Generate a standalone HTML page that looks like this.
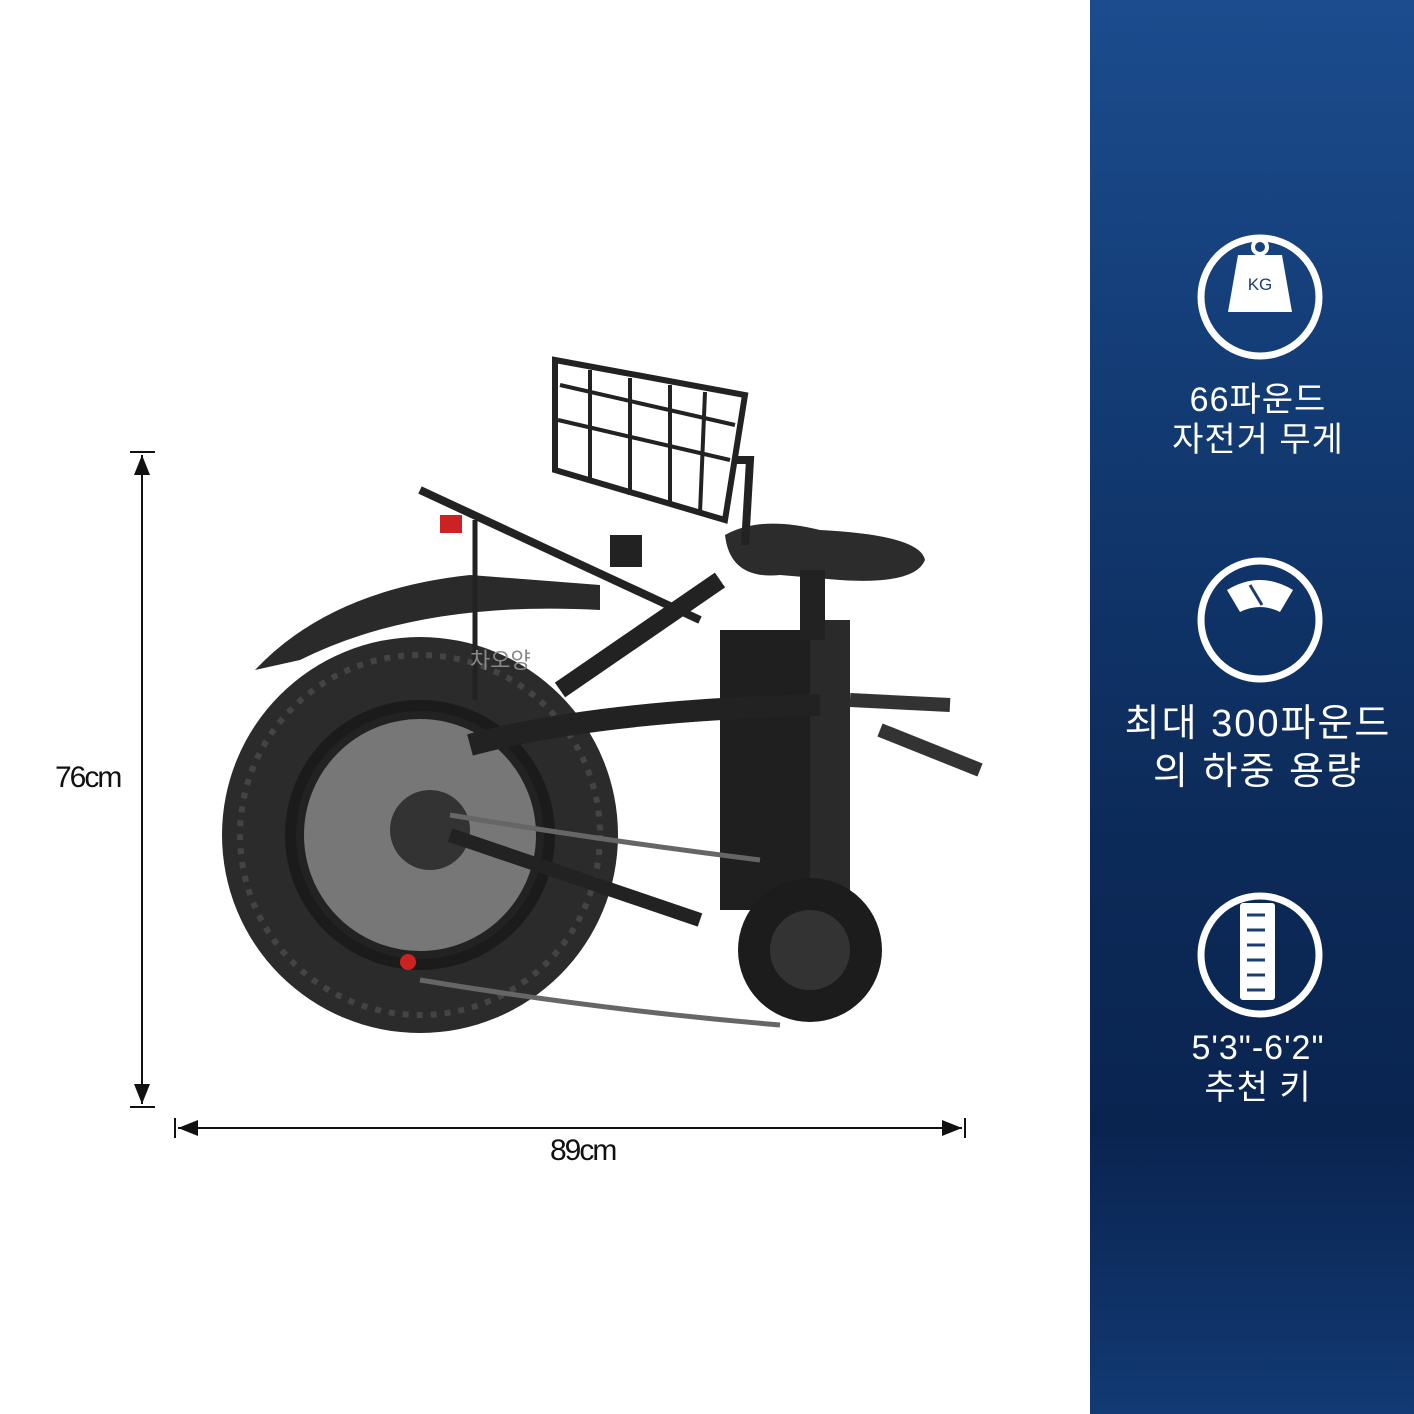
<!DOCTYPE html>
<html><head><meta charset="utf-8"><style>
html,body{margin:0;padding:0;}
body{width:1414px;height:1414px;position:relative;background:#fff;overflow:hidden;font-family:"Liberation Sans","Noto Sans CJK KR",sans-serif;}
.panel{position:absolute;left:1090px;top:0;width:324px;height:1414px;background:linear-gradient(180deg,#1c4c8e 0%,#123a72 30%,#0c2a58 60%,#0a2450 80%,#123a74 100%);}
.t{position:absolute;left:1090px;width:340px;text-align:center;color:#fff;font-size:34px;line-height:40px;letter-spacing:1px;}
.lbl{position:absolute;font-size:30px;color:#111;letter-spacing:-2px;}
</style></head><body>
<svg width="1090" height="1414" style="position:absolute;left:0;top:0">
<defs><marker id="a" viewBox="0 0 10 10" refX="10" refY="5" markerWidth="10" markerHeight="10" orient="auto-start-reverse"><path d="M0,1 L10,5 L0,9 Z" fill="#111"/></marker></defs>
<line x1="130" y1="452" x2="155" y2="452" stroke="#111" stroke-width="2"/>
<line x1="130" y1="1107" x2="155" y2="1107" stroke="#111" stroke-width="2"/>
<line x1="142" y1="455" x2="142" y2="1104" stroke="#111" stroke-width="2" marker-start="url(#a)" marker-end="url(#a)"/>
<line x1="175" y1="1118" x2="175" y2="1138" stroke="#111" stroke-width="2"/>
<line x1="965" y1="1118" x2="965" y2="1138" stroke="#111" stroke-width="2"/>
<line x1="178" y1="1128" x2="962" y2="1128" stroke="#111" stroke-width="2" marker-start="url(#a)" marker-end="url(#a)"/>
<path d="M255,670 Q330,590 470,575 L600,585 L600,610 Q420,600 300,660 Z" fill="#2a2a2a"/>
<circle cx="420" cy="835" r="198" fill="#2b2b2b"/>
<circle cx="420" cy="835" r="180" fill="none" stroke="#444" stroke-width="6" stroke-dasharray="6 8"/>
<circle cx="420" cy="835" r="135" fill="#1b1b1b"/>
<circle cx="420" cy="835" r="120" fill="#777"/>
<circle cx="420" cy="835" r="120" fill="none" stroke="#222" stroke-width="8"/>
<circle cx="430" cy="830" r="40" fill="#333"/>
<path d="M560,690 L720,580" stroke="#222" stroke-width="18"/>
<rect x="720" y="630" width="100" height="280" fill="#1f1f1f"/>
<rect x="810" y="620" width="40" height="280" fill="#2a2a2a"/>
<path d="M470,745 Q600,710 820,705" stroke="#222" stroke-width="22" fill="none"/>
<path d="M450,835 L700,920" stroke="#222" stroke-width="14"/>
<path d="M420,980 Q600,1010 780,1025" stroke="#666" stroke-width="5" fill="none"/>
<path d="M450,815 Q600,840 760,860" stroke="#666" stroke-width="5" fill="none"/>
<circle cx="810" cy="950" r="72" fill="#1c1c1c"/>
<circle cx="810" cy="950" r="40" fill="#333"/>
<path d="M420,490 L700,620" stroke="#222" stroke-width="8"/>
<line x1="475" y1="520" x2="475" y2="700" stroke="#222" stroke-width="5"/>
<path d="M725,535 Q760,515 820,530 Q920,535 925,560 Q915,585 840,580 L780,575 Q730,580 725,535 Z" fill="#2c2c2c"/>
<rect x="800" y="570" width="25" height="70" fill="#222"/>
<path d="M555,360 L745,395 L725,520 L555,470 Z" fill="none" stroke="#222" stroke-width="6"/>
<path d="M560,385 L735,425 M558,420 L730,460 M590,370 L590,480 M630,378 L630,495 M670,385 L670,505 M705,392 L700,513" stroke="#222" stroke-width="4" fill="none"/>
<path d="M735,460 L750,460 L745,545" stroke="#222" stroke-width="8" fill="none"/>
<rect x="610" y="535" width="32" height="32" fill="#222"/>
<path d="M850,700 L950,705 M880,730 L980,770" stroke="#333" stroke-width="14"/>
<rect x="440" y="515" width="22" height="18" fill="#c22"/>
<circle cx="408" cy="962" r="8" fill="#c22"/>
<text x="470" y="668" font-family="Noto Sans CJK KR,sans-serif" font-size="22" fill="#888">차오양</text>
</svg>
<div class="lbl" style="left:55px;top:761px;">76cm</div>
<div class="lbl" style="left:550px;top:1134px;">89cm</div>
<div class="panel"></div>
<svg width="324" height="1414" style="position:absolute;left:1090px;top:0">
<circle cx="170" cy="297" r="59" fill="none" stroke="#fff" stroke-width="7"/>
<circle cx="170" cy="247" r="7" fill="none" stroke="#fff" stroke-width="4"/>
<path d="M148,255 L192,255 L202,312 L138,312 Z" fill="#fff"/>
<text x="170" y="290" text-anchor="middle" font-size="17" fill="#1a3e72" font-family="Liberation Sans">KG</text>
<circle cx="170" cy="620" r="59" fill="none" stroke="#fff" stroke-width="7"/>
<path d="M137,590 Q170,570 203,590 L190,612 Q170,602 150,612 Z" fill="#fff"/>
<line x1="160" y1="585" x2="172" y2="605" stroke="#1a3e72" stroke-width="3"/>
<circle cx="170" cy="955" r="59" fill="none" stroke="#fff" stroke-width="7"/>
<rect x="150" y="903" width="35" height="97" rx="3" fill="#fff"/>
<path d="M157,915 H175 M157,930 H175 M157,945 H175 M157,960 H175 M157,975 H175 M157,990 H175" stroke="#1a3e72" stroke-width="3"/>
</svg>
<div class="t" style="top:380px;left:1088px;">66파운드<br>자전거 무게</div>
<div class="t" style="top:700px;left:1088px;font-size:38px;line-height:48px;letter-spacing:2px;">최대 300파운드<br>의 하중 용량</div>
<div class="t" style="top:1028px;left:1088px;">5'3"-6'2"<br>추천 키</div>
</body></html>
